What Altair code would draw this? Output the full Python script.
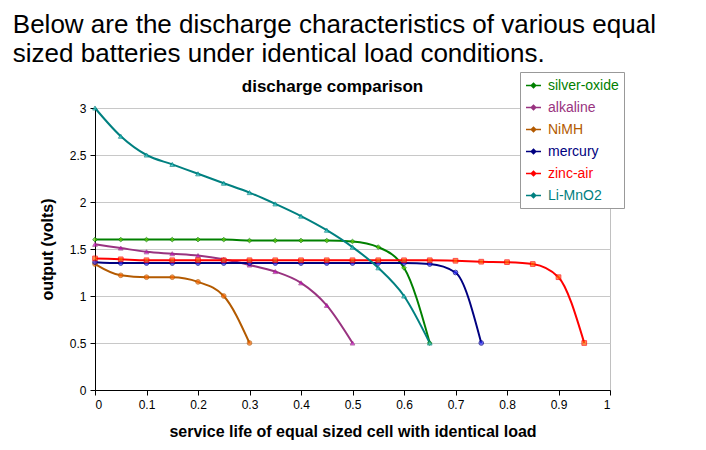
import altair as alt
import pandas as pd

# ---- data ----
series_names = ["silver-oxide", "alkaline", "NiMH", "mercury", "zinc-air", "Li-MnO2"]

x_silver = [0, 0.05, 0.1, 0.15, 0.2, 0.25, 0.3, 0.35, 0.4, 0.45, 0.5, 0.55, 0.6, 0.65]
silver_oxide = [1.6, 1.6, 1.6, 1.6, 1.6, 1.6, 1.59, 1.59, 1.59, 1.59, 1.58, 1.52, 1.3, 0.5]

x_alkaline = [0, 0.05, 0.1, 0.15, 0.2, 0.25, 0.3, 0.35, 0.4, 0.45, 0.5]
alkaline = [1.55, 1.51, 1.47, 1.45, 1.43, 1.39, 1.33, 1.26, 1.14, 0.9, 0.5]

x_nimh = [0, 0.05, 0.1, 0.15, 0.2, 0.25, 0.3]
nimh = [1.34, 1.22, 1.2, 1.2, 1.15, 1.0, 0.5]

x_mercury = [0, 0.05, 0.1, 0.15, 0.2, 0.25, 0.3, 0.35, 0.4, 0.45, 0.5, 0.55, 0.6, 0.65, 0.7, 0.75]
mercury = [1.36, 1.35, 1.35, 1.35, 1.35, 1.35, 1.35, 1.35, 1.35, 1.35, 1.35, 1.35, 1.35, 1.34, 1.25, 0.5]

x_zinc = [0, 0.05, 0.1, 0.15, 0.2, 0.25, 0.3, 0.35, 0.4, 0.45, 0.5, 0.55, 0.6, 0.65,
          0.7, 0.75, 0.8, 0.85, 0.9, 0.95]
zinc_air = [1.40, 1.39, 1.38, 1.38, 1.38, 1.38, 1.38, 1.38, 1.38, 1.38, 1.38, 1.38, 1.38, 1.38,
            1.375, 1.365, 1.36, 1.34, 1.2, 0.5]

x_li = [0, 0.05, 0.1, 0.15, 0.2, 0.25, 0.3, 0.35, 0.4, 0.45, 0.5, 0.55, 0.6, 0.65]
li_mno2 = [3.0, 2.7, 2.5, 2.4, 2.3, 2.2, 2.1, 1.98, 1.85, 1.7, 1.52, 1.3, 1.0, 0.5]

x_ticks = [0, 0.05, 0.1, 0.15, 0.2, 0.25, 0.3, 0.35, 0.4, 0.45, 0.5,
           0.55, 0.6, 0.65, 0.7, 0.75, 0.8, 0.85, 0.9, 0.95, 1]
y_ticks = [0, 0.5, 1, 1.5, 2, 2.5, 3]

line_colors = ["#008000", "#993380", "#b35a00", "#000080", "#ff0000", "#008080"]
marker_fills = ["#66cc00", "#cc00cc", "#ff6600", "#3333ff", "#ff6600", "#33cccc"]
shapes = ["diamond", "triangle-up", "circle", "circle", "square", "triangle-up"]

header = ["Below are the discharge characteristics of various equal",
          "sized batteries under identical load conditions."]

# ---- build table ----
pairs = [(x_silver, silver_oxide), (x_alkaline, alkaline), (x_nimh, nimh),
         (x_mercury, mercury), (x_zinc, zinc_air), (x_li, li_mno2)]
frames = []
for name, (xs, ys) in zip(series_names, pairs):
    frames.append(pd.DataFrame({"x": xs, "y": ys, "series": name}))
df = pd.concat(frames, ignore_index=True)

FONT = "Liberation Sans"

x_enc = alt.X("x:Q", scale=alt.Scale(domain=[0, 1], nice=False),
              axis=alt.Axis(values=x_ticks,
                            labelExpr="round(datum.value*100) % 10 == 0 ? format(datum.value, '~g') : ''",
                            title="service life of equal sized cell with identical load",
                            grid=False, labelOverlap=False, tickSize=5,
                            labelPadding=4, titlePadding=13))
y_enc = alt.Y("y:Q", scale=alt.Scale(domain=[0, 3], nice=False),
              axis=alt.Axis(values=y_ticks, format="~g", title="output  (volts)",
                            grid=True, tickSize=5, labelPadding=4, titlePadding=14))

base = alt.Chart(df)

lines = base.mark_line(interpolate="monotone", strokeWidth=2).encode(
    x=x_enc, y=y_enc,
    color=alt.Color("series:N",
                    scale=alt.Scale(domain=series_names, range=line_colors),
                    legend=alt.Legend(
                        title=None, orient="none", legendX=425, legendY=-36,
                        symbolType="M-1,0H1M-0.3,0L0,-0.3L0.3,0L0,0.3Z",
                        symbolSize=225, symbolStrokeWidth=1.5,
                        symbolFillColor={"expr": "scale('color', datum.value)"},
                        labelFontSize=14, labelFont=FONT, rowPadding=6,
                        padding=5, strokeColor="#999999", fillColor="white",
                        labelLimit=200, labelOffset=6,
                        labelColor={"expr": "scale('color', datum.value)"},
                    )),
    order="x:Q",
)

point_layers = []
for name, stroke_c, fill_c, shp in zip(series_names, line_colors, marker_fills, shapes):
    point_layers.append(
        base.transform_filter(alt.datum.series == name).mark_point(
            filled=True, size=22, strokeWidth=1, shape=shp, fill=fill_c, stroke=stroke_c
        ).encode(x="x:Q", y="y:Q")
    )

inner = alt.layer(lines, *point_layers).properties(
    width=515, height=282,
    title=alt.TitleParams("discharge comparison", fontSize=17, fontWeight="bold",
                          font=FONT, anchor="middle", dx=-20, offset=6),
)

chart = alt.vconcat(inner, title=alt.TitleParams(
    header, anchor="start", fontSize=26, fontWeight="normal", font=FONT,
    color="black", lineHeight=29, offset=5, dx=-26,
)).configure(padding={"left": 4, "top": 3, "right": 4, "bottom": 2}).configure_view(
    stroke="#c0c0c0"
).configure_axis(
    labelFont=FONT, titleFont=FONT, labelFontSize=12, titleFontSize=16,
    titleFontWeight="bold", labelColor="black", titleColor="black",
    domainColor="black", tickColor="black", gridColor="#c8c8c8",
)

chart.save("out.html", embed_options={"renderer": "svg", "actions": False})
